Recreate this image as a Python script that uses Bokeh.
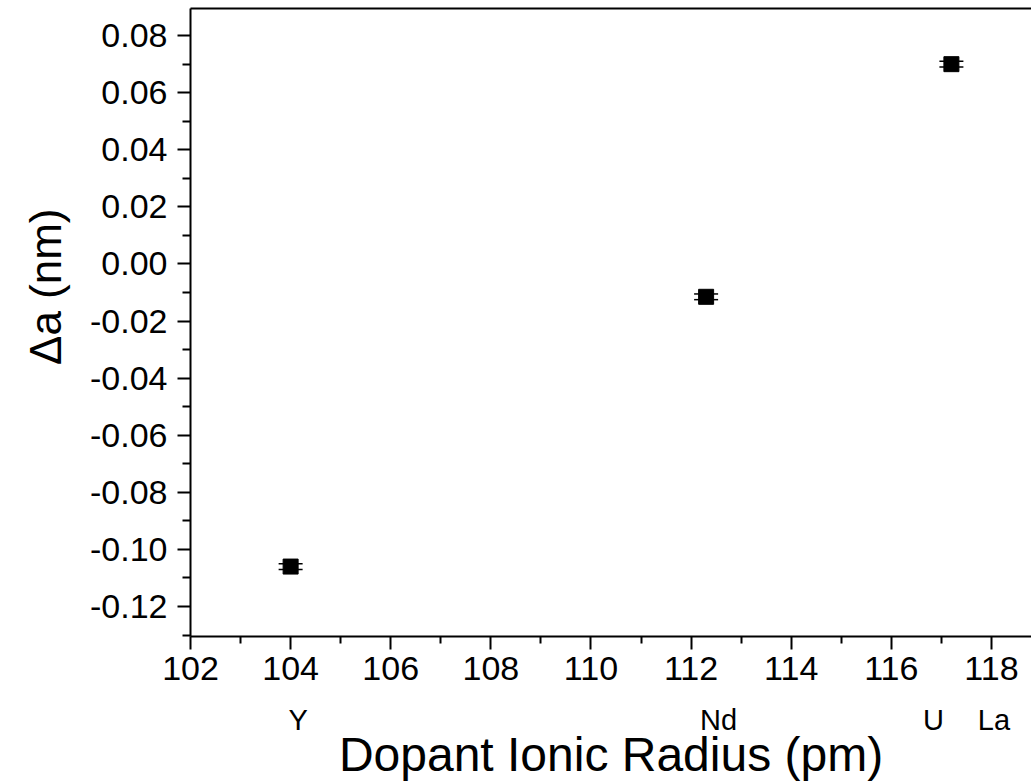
from bokeh.plotting import figure
from bokeh.models import (Range1d, FixedTicker, LinearAxis, CustomJSTickFormatter,
                          Whisker, TeeHead, ColumnDataSource, NumeralTickFormatter, Title)
from bokeh.embed import file_html
from bokeh.resources import INLINE

# ---- data ----
dopants = ["Y", "Nd", "U"]
radius_pm = [104.0, 112.3, 117.2]
delta_a_nm = [-0.106, -0.0115, 0.070]
delta_a_err = [0.001, 0.001, 0.001]

element_labels = ["Y", "Nd", "U", "La"]
element_label_x = [104.15, 112.55, 116.84, 118.05]

x_ticks = [102, 104, 106, 108, 110, 112, 114, 116, 118]
x_minor = [103, 105, 107, 109, 111, 113, 115, 117]
y_ticks = [-0.12, -0.10, -0.08, -0.06, -0.04, -0.02, 0.0, 0.02, 0.04, 0.06, 0.08]
y_minor = [-0.13, -0.11, -0.09, -0.07, -0.05, -0.03, -0.01, 0.01, 0.03, 0.05, 0.07]
X_RANGE = (102, 118.8)
Y_RANGE = (-0.1305, 0.0895)

x_title = "Dopant Ionic Radius (pm)"
y_title = "Δa (nm)"

FONT = "Liberation Sans"

src = ColumnDataSource(dict(
    x=radius_pm, y=delta_a_nm,
    lo=[v - e for v, e in zip(delta_a_nm, delta_a_err)],
    hi=[v + e for v, e in zip(delta_a_nm, delta_a_err)],
    name=dopants,
))

p = figure(width=1031, height=783, output_backend="svg", toolbar_location=None,
           x_range=Range1d(*X_RANGE), y_range=Range1d(*Y_RANGE),
           min_border_left=190, min_border_right=0, min_border_top=8, min_border_bottom=147)
p.outline_line_color = None
p.xgrid.visible = False
p.ygrid.visible = False
p.background_fill_color = "white"
p.border_fill_color = "white"

# axes styling
for ax in (p.xaxis[0], p.yaxis[0]):
    ax.axis_line_width = 2
    ax.axis_line_color = "black"
    ax.major_tick_line_width = 2
    ax.minor_tick_line_width = 2
    ax.major_tick_line_color = "black"
    ax.minor_tick_line_color = "black"
    ax.major_tick_in = 0
    ax.minor_tick_in = 0
    ax.major_tick_out = 13
    ax.minor_tick_out = 7
    ax.major_label_text_font = FONT
    ax.major_label_text_font_size = "34px"
    ax.major_label_text_color = "black"

p.xaxis[0].ticker = FixedTicker(ticks=x_ticks, minor_ticks=x_minor)
p.xaxis[0].major_label_standoff = 7
p.yaxis[0].ticker = FixedTicker(ticks=y_ticks, minor_ticks=y_minor)
p.yaxis[0].formatter = NumeralTickFormatter(format="0.00")
p.yaxis[0].major_label_standoff = 10
p.yaxis[0].minor_tick_out = 8

# second axis below carrying element names and the x title
elem_axis = LinearAxis(
    ticker=FixedTicker(ticks=element_label_x, minor_ticks=[]),
    formatter=CustomJSTickFormatter(
        args=dict(xs=element_label_x, names=element_labels),
        code="""
        for (let i = 0; i < xs.length; i++) {
            if (Math.abs(xs[i] - tick) < 1e-6) return names[i];
        }
        return '';
        """),
    axis_line_color=None, major_tick_line_color=None, minor_tick_line_color=None,
    major_tick_in=0, major_tick_out=0,
    major_label_text_font=FONT, major_label_text_font_size="29px",
    major_label_text_color="black", major_label_standoff=21,
    axis_label=x_title, axis_label_text_font=FONT,
    axis_label_text_font_size="48px", axis_label_text_font_style="normal",
    axis_label_text_color="black", axis_label_standoff=-11,
)
p.add_layout(elem_axis, "below")

# top frame line (axis without ticks or labels)
top_axis = LinearAxis(
    ticker=FixedTicker(ticks=[], minor_ticks=[]),
    axis_line_color="black", axis_line_width=2,
    major_tick_line_color=None, minor_tick_line_color=None,
    major_tick_in=0, major_tick_out=0, minor_tick_in=0, minor_tick_out=0,
    major_label_standoff=0, major_label_text_font_size="0px",
)
p.add_layout(top_axis, "above")

# y title as a side title (lets it sit off-centre like the original)
p.add_layout(Title(text=y_title, align="right", vertical_align="bottom", offset=200,
                   standoff=36, text_font=FONT, text_font_size="44px",
                   text_font_style="normal", text_color="black"), "left")

# data
p.scatter("x", "y", source=src, marker="square", size=15, color="black")
p.add_layout(Whisker(source=src, base="x", upper="hi", lower="lo", dimension="height",
                     line_color="black", line_width=1.2,
                     upper_head=TeeHead(size=24, line_color="black", line_width=1.5),
                     lower_head=TeeHead(size=24, line_color="black", line_width=1.5)))

open("out.html", "w").write(file_html(p, INLINE))
